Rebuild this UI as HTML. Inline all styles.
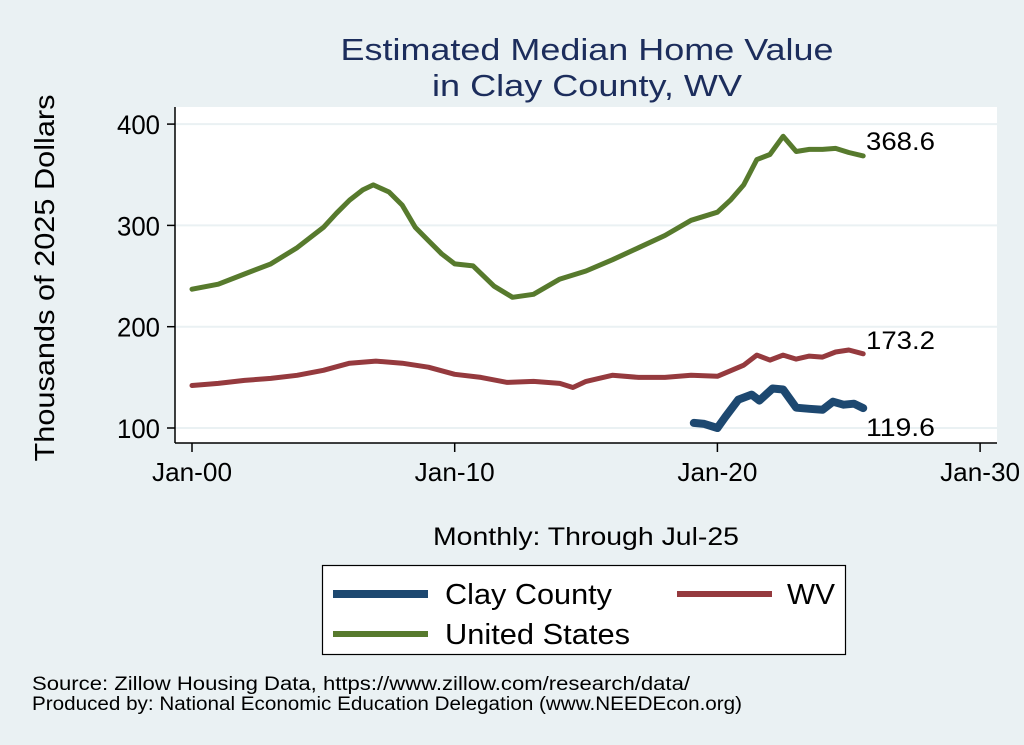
<!DOCTYPE html>
<html><head><meta charset="utf-8"><style>
body{margin:0;background:#eaf1f3;}
svg{display:block;font-family:"Liberation Sans",sans-serif;}
</style></head><body>
<svg id="chart" width="1024" height="745" viewBox="0 0 1024 745">
<rect width="1024" height="745" fill="#eaf1f3"/>
<text x="587" y="60" font-size="31" fill="#1c2d5c" text-anchor="middle" textLength="493" lengthAdjust="spacingAndGlyphs">Estimated Median Home Value</text>
<text x="587" y="96" font-size="31" fill="#1c2d5c" text-anchor="middle" textLength="310" lengthAdjust="spacingAndGlyphs">in Clay County, WV</text>
<rect x="175" y="107" width="822" height="336" fill="#ffffff"/>
<g id="grid"></g>
<g id="axes"></g>
<g id="series"></g>
<text x="54" y="278" font-size="28" fill="#000" text-anchor="middle" transform="rotate(-90 54 278)" textLength="367" lengthAdjust="spacingAndGlyphs">Thousands of 2025 Dollars</text>
<text x="586" y="545" font-size="25" fill="#000" text-anchor="middle" textLength="306" lengthAdjust="spacingAndGlyphs">Monthly: Through Jul-25</text>
<g>
<rect x="322.5" y="565.5" width="523" height="89" fill="#fff" stroke="#000" stroke-width="1.2"/>
<line x1="333" y1="594" x2="428" y2="594" stroke="#1d4870" stroke-width="8"/>
<text x="445" y="604" font-size="29" textLength="167" lengthAdjust="spacingAndGlyphs">Clay County</text>
<line x1="677" y1="594" x2="772" y2="594" stroke="#953a3e" stroke-width="6"/>
<text x="787" y="604" font-size="29" textLength="48" lengthAdjust="spacingAndGlyphs">WV</text>
<line x1="333" y1="634" x2="428" y2="634" stroke="#577a2d" stroke-width="6"/>
<text x="445" y="644" font-size="29" textLength="185" lengthAdjust="spacingAndGlyphs">United States</text>
</g>
<text x="32" y="690" font-size="19" textLength="658" lengthAdjust="spacingAndGlyphs">Source: Zillow Housing Data, https://www.zillow.com/research/data/</text>
<text x="32" y="710" font-size="19" textLength="710" lengthAdjust="spacingAndGlyphs">Produced by: National Economic Education Delegation (www.NEEDEcon.org)</text>
</svg>
<script>
const yTicks=[100,200,300,400];
const xTickYears=[2000,2010,2020,2030];
const xTickLabels=["Jan-00","Jan-10","Jan-20","Jan-30"];
const usYears=[2000,2001,2002,2003,2004,2005,2005.5,2006,2006.5,2006.9,2007.5,2008,2008.5,2009,2009.5,2010,2010.7,2011.5,2012.2,2013,2014,2015,2016,2017,2018,2019,2020,2020.5,2021,2021.5,2022,2022.5,2023,2023.5,2024,2024.5,2025,2025.55];
const usValues=[237,242,252,262,278,298,312,325,335,340,333,320,298,285,272,262,260,240,229,232,247,255,266,278,290,305,313,325,340,365,370,388,373,375,375,376,372,368.6];
const wvYears=[2000,2001,2002,2003,2004,2005,2006,2007,2008,2009,2010,2011,2012,2013,2014,2014.5,2015,2016,2017,2018,2019,2020,2021,2021.5,2022,2022.5,2023,2023.5,2024,2024.5,2025,2025.55];
const wvValues=[142,144,147,149,152,157,164,166,164,160,153,150,145,146,144,140,146,152,150,150,152,151,162,172,167,172,168,171,170,175,177,173.2];
const clayYears=[2019.1,2019.5,2020,2020.3,2020.8,2021.3,2021.6,2022.1,2022.5,2023,2023.5,2024,2024.4,2024.8,2025.2,2025.55];
const clayValues=[105,104,100,111,128,133,127,139,138,120,119,118,126,123,124,119.6];
const endLabels=["368.6","173.2","119.6"];
const NS="http://www.w3.org/2000/svg";
function xs(yr){return 192+(yr-2000)*26.27;}
function ys(v){return 428-(v-100)*1.013;}
function mk(tag,attrs,parent){const e=document.createElementNS(NS,tag);for(const k in attrs)e.setAttribute(k,attrs[k]);parent.appendChild(e);return e;}
const grid=document.getElementById('grid'),axes=document.getElementById('axes'),series=document.getElementById('series');
yTicks.forEach(v=>{
 const g=mk('line',{x1:175,x2:997,y1:ys(v),y2:ys(v),stroke:'#eaf1f3','stroke-width':2},grid);
 
 
 const t=mk('line',{x1:167,x2:175,y1:ys(v),y2:ys(v),stroke:'#000','stroke-width':1.5},axes);
 
 
 const l=mk('text',{x:160,y:ys(v)+10,'font-size':27,'text-anchor':'end',textLength:43,lengthAdjust:'spacingAndGlyphs'},axes);l.textContent=v;
 
 
});
const ya=mk('line',{x1:175,x2:175,y1:107,y2:443,stroke:'#000','stroke-width':1.5},axes);


const xa=mk('line',{x1:175,x2:997,y1:443,y2:443,stroke:'#000','stroke-width':1.5},axes);


xTickYears.forEach((yr,i)=>{
 const t=mk('line',{x1:xs(yr),x2:xs(yr),y1:443,y2:452,stroke:'#000','stroke-width':1.5},axes);
 
 
 const l=mk('text',{x:xs(yr),y:481,'font-size':26,'text-anchor':'middle',textLength:80,lengthAdjust:'spacingAndGlyphs'},axes);l.textContent=xTickLabels[i];
 
 
});
function line(xsArr,vals,color,w,name){
 const d=xsArr.map((yr,i)=>(i?'L':'M')+xs(yr).toFixed(1)+','+ys(vals[i]).toFixed(1)).join('');
 const p=mk('path',{d:d,fill:'none',stroke:color,'stroke-width':w,'stroke-linejoin':'round','stroke-linecap':'round'},series);
 
 
}
line(usYears,usValues,'#577a2d',5,'line-united-states');
line(wvYears,wvValues,'#953a3e',5,'line-wv');
line(clayYears,clayValues,'#1d4870',8,'line-clay-county');
const lastVals=[usValues[usValues.length-1],wvValues[wvValues.length-1],clayValues[clayValues.length-1]];
const offs=[-15,-14,19];
lastVals.forEach((v,i)=>{
 const l=mk('text',{x:866,y:ys(v)+offs[i]+9,'font-size':25,textLength:69,lengthAdjust:'spacingAndGlyphs'},series);l.textContent=endLabels[i];
 
 
});
</script>
</body></html>
